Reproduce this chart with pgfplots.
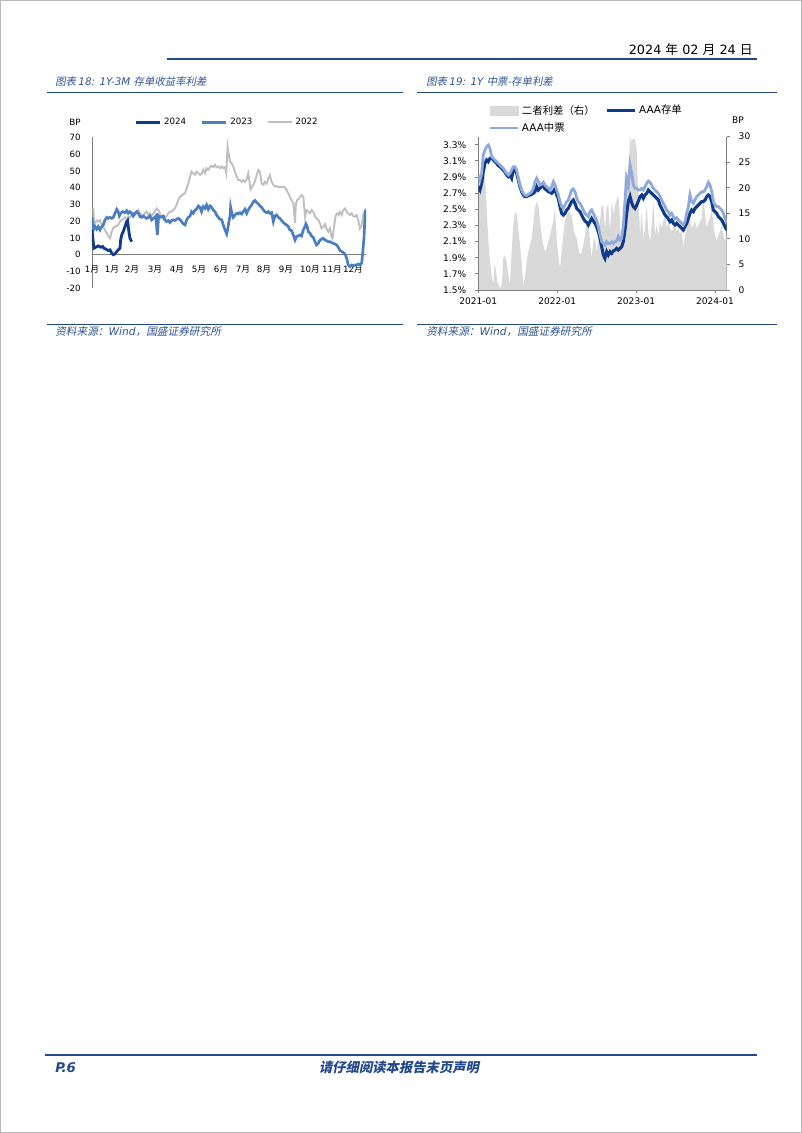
\documentclass[border=0pt]{standalone}
\usepackage{fontspec}
\setmainfont{DejaVu Sans}
\newfontfamily\cjk{Noto Sans CJK SC}
\newfontfamily\cjksl{Noto Sans CJK SC}[FakeSlant=0.2]
\usepackage{pgfplots}
\pgfplotsset{compat=1.18}
\definecolor{hdr}{RGB}{36,72,140}
\definecolor{ttl}{RGB}{47,84,150}
\definecolor{cdark}{RGB}{16,58,140}
\definecolor{cmid}{RGB}{74,126,193}
\definecolor{cgray}{RGB}{191,191,191}
\definecolor{clight}{RGB}{142,169,219}
\definecolor{areagray}{RGB}{217,217,217}
\definecolor{axgray}{RGB}{128,128,128}
\newcommand\yue{{\cjk 月}}
\begin{document}
\begin{tikzpicture}
\begin{scope}[x=0.75pt,y=-0.75pt]
\path[use as bounding box, fill=white] (0,0) rectangle (802,1133);
\draw[gray!55, line width=0.75pt] (0.5,0.5) rectangle (801.5,1132.5);
% header
\draw[hdr, line width=1.5pt] (167,59.3) -- (757,59.3);
\node[anchor=base east, inner sep=0pt, font=\fontsize{9.6}{12}\selectfont] at (753,54) {2024 {\cjk 年} 02 {\cjk 月} 24 {\cjk 日}};
% titles
\node[anchor=base west, inner sep=0pt, text=ttl, font=\fontsize{7.8}{9}\selectfont] at (55,85) {{\cjksl 图表 }{\itshape 18: 1Y-3M }{\cjksl 存单收益率利差}};
\node[anchor=base west, inner sep=0pt, text=ttl, font=\fontsize{7.8}{9}\selectfont] at (426,85) {{\cjksl 图表 }{\itshape 19: 1Y }{\cjksl 中票-存单利差}};
\draw[hdr, line width=1.3pt] (47,92.5) -- (402.5,92.5);
\draw[hdr, line width=1.3pt] (417,92.5) -- (777,92.5);
% sources
\draw[hdr, line width=1.1pt] (47,324.3) -- (402.5,324.3);
\draw[hdr, line width=1.1pt] (417,324.3) -- (777,324.3);
\node[anchor=base west, inner sep=0pt, text=ttl, font=\fontsize{8}{9}\selectfont] at (55,335) {{\cjksl 资料来源：}{\itshape Wind}{\cjksl ，国盛证券研究所}};
\node[anchor=base west, inner sep=0pt, text=ttl, font=\fontsize{8}{9}\selectfont] at (426,335) {{\cjksl 资料来源：}{\itshape Wind}{\cjksl ，国盛证券研究所}};
% footer
\draw[hdr, line width=1.5pt] (45,1055) -- (757,1055);
\node[anchor=base west, inner sep=0pt, text=hdr, font=\fontsize{10}{12}\selectfont\bfseries\itshape] at (55,1072) {P.6};
\node[anchor=base, inner sep=0pt, text=hdr, font=\fontsize{10}{12}\selectfont] at (399,1072) {{\cjksl\bfseries 请仔细阅读本报告末页声明}};
% BP labels
\node[font=\fontsize{6.5}{7}\selectfont, inner sep=0pt] at (75,122) {BP};
\node[font=\fontsize{6.8}{8}\selectfont, inner sep=0pt] at (738,120) {BP};
\end{scope}

% ---------------- Chart 18 ----------------
\begin{axis}[
  at={(92*0.75pt,-288.3*0.75pt)}, anchor=south west,
  width=205.5pt, height=113.25pt, scale only axis,
  xmin=0, xmax=12.63, ymin=-20, ymax=70,
  axis y line=left, axis x line=middle,
  axis line style={-, draw=axgray, line width=0.6pt},
  every inner x axis line/.append style={-},
  every outer y axis line/.append style={-},
  ytick={-20,-10,0,10,20,30,40,50,60,70},
  xtick={0,0.92,1.84,2.90,3.92,4.93,5.94,6.96,7.93,8.94,10.05,11.06,12.03},
  xticklabels={1\yue,1\yue,2\yue,3\yue,4\yue,5\yue,6\yue,7\yue,8\yue,9\yue,10\yue,11\yue,12\yue},
  major tick length=0pt,
  hide obscured x ticks=false, hide obscured y ticks=false,
  tick label style={font=\fontsize{6.5}{7}\selectfont},
  yticklabel style={anchor=east, xshift=-5pt},
  xticklabel style={anchor=north, yshift=-5pt},
  /pgf/number format/assume math mode=true,
  legend style={at={(axis description cs:0.155,1.10)}, anchor=west, draw=none, fill=none,
    inner sep=0pt, legend columns=3, font=\fontsize{6.5}{7}\selectfont,
    /tikz/every even column/.append style={column sep=9pt}},
  legend image code/.code={\draw[#1] (0pt,0pt) -- (18pt,0pt);},
]
\addlegendimage{cdark, line width=2.1pt}\addlegendentry{2024}
\addlegendimage{cmid, line width=2.0pt}\addlegendentry{2023}
\addlegendimage{cgray, line width=1.4pt}\addlegendentry{2022}
% 2022
\addplot[cgray, line width=1.4pt, forget plot] table {
0.06 27.7
0.09 20.8
0.14 18.8
0.22 20.4
0.29 19.8
0.37 20.8
0.45 17.8
0.52 16.8
0.60 14.8
0.68 12.8
0.75 11.2
0.83 9.8
0.91 13.8
0.98 15.8
1.06 16.8
1.14 17.2
1.21 17.8
1.29 19.8
1.37 20.8
1.44 21.2
1.52 22.3
1.60 21.7
1.67 22.7
1.75 22.3
1.83 23.7
1.90 24.7
1.98 23.7
2.06 25.7
2.14 26.7
2.21 24.7
2.29 23.7
2.37 23.1
2.44 24.7
2.52 25.7
2.60 23.7
2.67 24.7
2.75 23.1
2.83 24.7
2.90 25.7
2.98 27.7
3.06 26.7
3.13 24.7
3.21 22.3
3.29 21.2
3.36 22.3
3.44 23.1
3.52 24.7
3.59 25.7
3.67 25.7
3.75 26.7
3.82 27.7
3.90 29.7
3.98 32.7
4.06 34.7
4.13 35.1
4.21 36.3
4.29 36.7
4.36 39.6
4.44 42.6
4.52 46.6
4.59 49.6
4.67 48.6
4.75 47.6
4.82 49.6
4.90 48.6
4.98 47.6
5.05 48.2
5.13 50.6
5.21 48.6
5.28 51.6
5.36 50.6
5.44 52.2
5.51 53.0
5.59 52.2
5.67 53.6
5.74 52.2
5.82 52.6
5.90 51.6
5.98 52.6
6.05 51.6
6.13 52.2
6.19 48.6
6.25 64.5
6.36 55.5
6.44 54.5
6.51 52.5
6.59 49.5
6.67 46.5
6.74 44.5
6.82 44.5
6.90 43.5
6.97 44.5
7.05 43.5
7.13 44.9
7.20 48.5
7.25 44.5
7.31 39.0
7.43 41.6
7.51 43.5
7.59 47.5
7.67 50.5
7.74 49.5
7.82 42.5
7.90 41.6
7.97 43.5
8.05 42.5
8.13 45.5
8.20 47.5
8.28 43.5
8.36 41.6
8.43 40.6
8.51 41.0
8.59 40.2
8.66 40.6
8.74 40.2
8.82 40.6
8.89 40.2
8.97 38.6
9.05 36.6
9.12 34.6
9.20 32.6
9.28 30.6
9.36 19.1
9.40 30.6
9.46 32.6
9.55 33.6
9.66 35.6
9.74 34.6
9.82 22.7
9.89 26.6
9.97 25.6
10.05 24.7
10.12 26.6
10.20 25.6
10.28 22.7
10.35 21.7
10.43 20.7
10.51 18.7
10.58 15.7
10.66 16.7
10.74 18.3
10.81 15.7
10.89 13.7
10.97 15.7
11.04 10.7
11.09 9.7
11.15 16.7
11.24 23.7
11.31 24.7
11.37 23.7
11.43 25.6
11.51 23.7
11.58 26.6
11.66 27.6
11.74 25.6
11.81 24.7
11.89 23.7
11.97 24.7
12.04 23.1
12.12 22.7
12.20 23.7
12.27 20.7
12.35 15.7
12.43 17.7
12.50 23.7
12.58 26.6
12.63 27.6
};
% 2023
\addplot[cmid, line width=2.0pt, forget plot] table {
0.00 22.3
0.06 14.8
0.14 16.8
0.22 15.2
0.29 16.8
0.37 14.8
0.45 16.8
0.52 17.8
0.60 20.8
0.68 22.3
0.75 21.7
0.83 22.3
0.91 21.7
0.98 22.3
1.06 24.7
1.14 27.1
1.21 25.7
1.26 23.1
1.32 24.7
1.41 25.7
1.52 25.1
1.60 26.3
1.67 24.7
1.75 25.7
1.83 24.7
1.90 23.1
1.98 24.7
2.06 25.7
2.14 24.7
2.21 22.7
2.29 22.3
2.37 23.1
2.44 22.3
2.52 21.7
2.60 22.3
2.67 23.1
2.75 20.8
2.83 21.7
2.90 22.3
2.95 23.1
2.98 16.8
3.01 11.8
3.04 16.8
3.07 23.1
3.13 22.3
3.21 22.7
3.29 23.1
3.36 20.8
3.44 19.8
3.52 20.4
3.59 19.2
3.67 20.4
3.75 20.8
3.82 20.4
3.90 21.2
3.98 21.7
4.06 20.8
4.13 19.8
4.21 18.4
4.29 17.8
4.36 20.8
4.44 22.3
4.52 23.1
4.59 25.7
4.67 24.7
4.75 26.7
4.82 27.1
4.90 29.1
4.98 28.3
5.05 25.7
5.13 28.7
5.21 27.7
5.28 29.7
5.36 27.1
5.44 29.1
5.51 28.3
5.59 26.7
5.67 25.7
5.74 23.7
5.82 22.3
5.90 21.2
5.98 20.8
6.05 17.8
6.13 14.8
6.21 12.4
6.25 14.8
6.30 18.8
6.36 23.1
6.39 28.3
6.44 25.0
6.51 22.3
6.59 23.7
6.67 24.7
6.74 24.3
6.82 25.1
6.90 24.3
6.97 25.7
7.05 27.1
7.13 24.7
7.20 26.7
7.28 28.3
7.36 29.7
7.44 31.7
7.51 32.3
7.59 31.1
7.67 30.3
7.74 29.1
7.82 28.3
7.90 26.7
7.97 25.7
8.05 25.1
8.13 25.7
8.20 24.7
8.28 25.1
8.33 21.8
8.36 19.8
8.43 23.1
8.51 23.7
8.59 22.3
8.66 21.7
8.74 20.4
8.82 19.2
8.89 18.4
8.97 17.8
9.05 16.8
9.12 14.8
9.20 14.4
9.28 11.8
9.36 8.8
9.43 10.8
9.51 11.2
9.59 11.8
9.66 11.2
9.74 14.8
9.82 16.8
9.86 18.4
9.92 16.8
9.97 13.8
10.05 12.8
10.12 11.2
10.20 10.4
10.28 7.8
10.35 5.8
10.43 6.8
10.51 8.8
10.58 9.2
10.66 9.8
10.74 8.8
10.81 8.4
10.89 7.8
10.97 7.8
11.05 7.2
11.12 6.8
11.20 6.4
11.28 5.8
11.35 4.5
11.43 2.5
11.51 1.9
11.58 1.3
11.66 0.5
11.74 -2.1
11.81 -6.1
11.89 -7.1
11.97 -6.1
12.04 -6.7
12.12 -6.1
12.20 -6.1
12.27 -5.5
12.35 -6.1
12.43 -5.1
12.47 -0.1
12.54 10.8
12.58 21.8
12.61 26.7
};
% 2024
\addplot[cdark, line width=2.1pt, forget plot] table {
0.00 14.8
0.03 10.8
0.09 3.9
0.18 4.5
0.29 5.3
0.40 4.5
0.49 4.9
0.55 3.9
0.65 3.3
0.75 2.5
0.83 2.9
0.91 0.9
0.98 0.0
1.06 0.5
1.14 1.9
1.21 2.9
1.29 3.9
1.32 8.8
1.37 11.8
1.44 13.8
1.52 16.8
1.60 19.8
1.64 20.4
1.69 14.8
1.75 9.8
1.83 7.8
};
\end{axis}

% ---------------- Chart 19: right axis (spread area) ----------------
\begin{axis}[
  at={(478.3*0.75pt,-290*0.75pt)}, anchor=south west,
  width=186.3pt, height=115pt, scale only axis,
  xmin=0, xmax=149, ymin=0, ymax=30,
  axis y line*=right, axis x line=none,
  axis line style={-, draw=axgray, line width=0.6pt},
  ytick={0,5,10,15,20,25,30},
  tick align=outside, major tick length=2.5pt,
  tick style={draw=axgray, line width=0.6pt},
  tick label style={font=\fontsize{6.8}{8}\selectfont},
  yticklabel style={anchor=west, xshift=3pt},
  /pgf/number format/assume math mode=true,
]
\addplot[fill=areagray, draw=none] table {
0 21.9
1 18.6
2 19.9
3 21.9
4 22.8
4.6 18.6
5.4 13.4
6.2 8.8
7 5.5
8 2.9
9 1.0
9.6 4.9
10.4 4.2
11.4 1.6
12.6 0.7
13.4 0.3
14.2 1.6
15 6.2
16 6.8
17 5.5
18 2.9
19 1.0
20 7.5
21 12.7
22 15.3
23 15.0
24 12.1
25 8.8
26 5.5
27 0.7
28 2.6
29 5.5
30 7.5
31 8.8
32 10.1
33 12.7
34 16.0
35 17.3
36 16.6
37 13.4
38 10.8
39 8.8
40 7.5
41 8.2
42 9.5
43 10.8
44 12.1
45 13.4
46 16.0
47 10.1
48 6.8
49 4.2
50 7.5
51 10.8
52 13.4
53 14.7
54 15.3
55 15.0
56 14.7
57 12.1
58 10.8
59 10.1
60 8.2
61 6.8
62 7.5
63 8.8
64 10.8
65 13.4
66 13.4
67 9.5
68 6.2
69 9.5
70 10.1
71 7.5
72 10.1
73 13.4
74 16.6
75 16.3
76 12.1
77 16.3
78 16.6
79 11.4
80 17.3
81 14.7
82 16.6
83 17.6
84 18.6
84.6 16.0
85.4 10.8
86.2 9.5
87 13.4
88 24.8
89 20.5
90 21.9
91 30.0
92 29.0
93 29.7
94 29.4
95 27.7
95.6 21.2
96.2 17.3
97 10.8
98 15.3
99 10.1
100 12.1
101 16.6
102 11.4
103 9.5
104 12.7
105 17.3
106 10.8
107 12.7
108 10.8
109 13.4
110 12.1
111 13.4
112 15.3
113 12.1
114 13.4
115 12.1
116 11.4
117 12.1
118 12.7
119 11.4
120 12.1
121 10.8
122 12.1
123 8.2
124 10.8
125 12.1
126 19.2
127 13.4
128 12.1
129 12.7
130 13.4
131 12.1
132 12.7
133 13.4
134 14.0
135 18.6
136 14.7
137 12.1
138 13.4
139 14.0
140 16.6
141 12.7
142 10.8
143 9.5
144 10.8
145 11.4
146 12.7
147 10.8
148 9.5
149 10.8
} \closedcycle;
\end{axis}

% ---------------- Chart 19: left axis (yields) ----------------
\begin{axis}[
  at={(478.3*0.75pt,-290*0.75pt)}, anchor=south west,
  width=186.3pt, height=115pt, scale only axis,
  xmin=0, xmax=149, ymin=1.5, ymax=3.4,
  axis y line*=left, axis x line*=bottom,
  axis line style={-, draw=axgray, line width=0.6pt},
  ytick={1.5,1.7,1.9,2.1,2.3,2.5,2.7,2.9,3.1,3.3},
  yticklabel={\pgfmathprintnumber[fixed,fixed zerofill,precision=1]{\tick}\%},
  xtick={0,47.34,94.68,142.02},
  xticklabels={2021-01,2022-01,2023-01,2024-01},
  tick align=outside, major tick length=2.5pt,
  tick style={draw=axgray, line width=0.6pt},
  tick label style={font=\fontsize{6.8}{8}\selectfont},
  yticklabel style={anchor=east, xshift=-3pt},
  /pgf/number format/assume math mode=true,
  legend style={at={(axis description cs:0.04,1.225)}, anchor=north west, draw=none, fill=none,
    inner sep=0pt, legend columns=2, font=\fontsize{7.8}{9}\selectfont,
    /tikz/every even column/.append style={column sep=6pt}, row sep=1pt},
  legend cell align=left,
  legend image code/.code={\draw[#1] (0pt,0pt) -- (21pt,0pt);},
]
\addlegendimage{legend image code/.code={\fill[areagray] (0pt,-3.2pt) rectangle (21pt,3.2pt);}}
\addlegendentry{{\cjk 二者利差（右）}}
\addplot[cdark, line width=2.3pt] table {
0 2.780
1 2.739
2 2.822
3 2.966
4 3.070
5 3.111
6 3.090
7 3.132
8 3.140
9 3.111
10 3.090
11 3.070
12 3.041
13 3.028
14 3.008
15 2.987
16 2.958
17 2.925
18 2.904
19 2.925
20 2.884
21 2.987
22 2.999
23 2.946
24 2.863
25 2.780
26 2.718
27 2.677
28 2.657
29 2.657
30 2.669
31 2.677
32 2.685
33 2.698
34 2.718
35 2.780
36 2.739
37 2.760
38 2.793
39 2.780
40 2.752
41 2.739
42 2.718
43 2.710
44 2.698
45 2.718
46 2.760
47 2.677
48 2.636
49 2.533
50 2.450
51 2.429
52 2.450
53 2.491
54 2.512
55 2.553
56 2.595
57 2.615
58 2.574
59 2.512
60 2.491
61 2.471
62 2.429
63 2.388
64 2.355
65 2.338
66 2.305
67 2.347
68 2.388
69 2.355
70 2.326
71 2.285
72 2.223
73 2.140
74 2.037
75 1.934
76 1.892
77 1.975
78 1.934
79 1.975
80 1.954
81 1.983
82 1.996
83 2.016
84 1.996
85 2.016
86 2.037
87 2.100
88 2.250
89 2.450
90 2.600
91 2.660
92 2.580
93 2.530
94 2.510
95 2.550
96 2.600
97 2.657
98 2.677
99 2.636
100 2.677
101 2.698
102 2.739
103 2.718
104 2.698
105 2.677
106 2.657
107 2.636
108 2.615
109 2.553
110 2.512
111 2.471
112 2.429
113 2.409
114 2.380
115 2.347
116 2.367
117 2.326
118 2.305
119 2.326
120 2.305
121 2.285
122 2.264
123 2.243
124 2.285
125 2.326
126 2.388
127 2.450
128 2.491
129 2.471
130 2.512
131 2.533
132 2.553
133 2.574
134 2.595
135 2.595
136 2.615
137 2.657
138 2.677
139 2.657
140 2.595
141 2.491
142 2.471
143 2.450
144 2.409
145 2.388
146 2.367
147 2.326
148 2.285
149 2.243
};
\addlegendentry{AAA{\cjk 存单}}
\addplot[clight, line width=2.1pt] table {
0 2.925
1 2.863
2 2.946
3 3.173
4 3.235
5 3.276
6 3.297
7 3.255
8 3.152
9 3.132
10 3.111
11 3.090
12 3.070
13 3.049
14 3.028
15 3.008
16 2.975
17 2.946
18 2.925
19 2.946
20 2.987
21 3.028
22 3.028
23 2.987
24 2.884
25 2.801
26 2.739
27 2.698
28 2.677
29 2.669
30 2.685
31 2.698
32 2.718
33 2.760
34 2.842
35 2.884
36 2.842
37 2.801
38 2.809
39 2.834
40 2.801
41 2.780
42 2.760
43 2.739
44 2.780
45 2.842
46 2.801
47 2.739
48 2.677
49 2.595
50 2.533
51 2.512
52 2.553
53 2.595
54 2.615
55 2.677
56 2.739
57 2.752
58 2.718
59 2.636
60 2.595
61 2.574
62 2.533
63 2.491
64 2.450
65 2.429
66 2.409
67 2.471
68 2.491
69 2.450
70 2.409
71 2.367
72 2.285
73 2.182
74 2.099
75 2.078
76 2.058
77 2.099
78 2.078
79 2.078
80 2.099
81 2.078
82 2.099
83 2.107
84 2.161
85 2.120
86 2.140
87 2.300
88 2.600
89 2.880
90 2.800
91 3.050
92 2.950
93 2.800
94 2.760
95 2.760
96 2.740
97 2.739
98 2.760
99 2.739
100 2.780
101 2.822
102 2.851
103 2.834
104 2.801
105 2.760
106 2.739
107 2.718
108 2.698
109 2.657
110 2.615
111 2.574
112 2.533
113 2.491
114 2.471
115 2.429
116 2.450
117 2.409
118 2.380
119 2.396
120 2.367
121 2.347
122 2.326
123 2.305
124 2.347
125 2.450
126 2.533
127 2.677
128 2.595
129 2.574
130 2.615
131 2.657
132 2.677
133 2.698
134 2.718
135 2.718
136 2.739
137 2.780
138 2.834
139 2.801
140 2.718
141 2.595
142 2.553
143 2.533
144 2.533
145 2.512
146 2.491
147 2.450
148 2.388
149 2.326
};
\addlegendentry{AAA{\cjk 中票}}
\end{axis}
\end{tikzpicture}
\end{document}
